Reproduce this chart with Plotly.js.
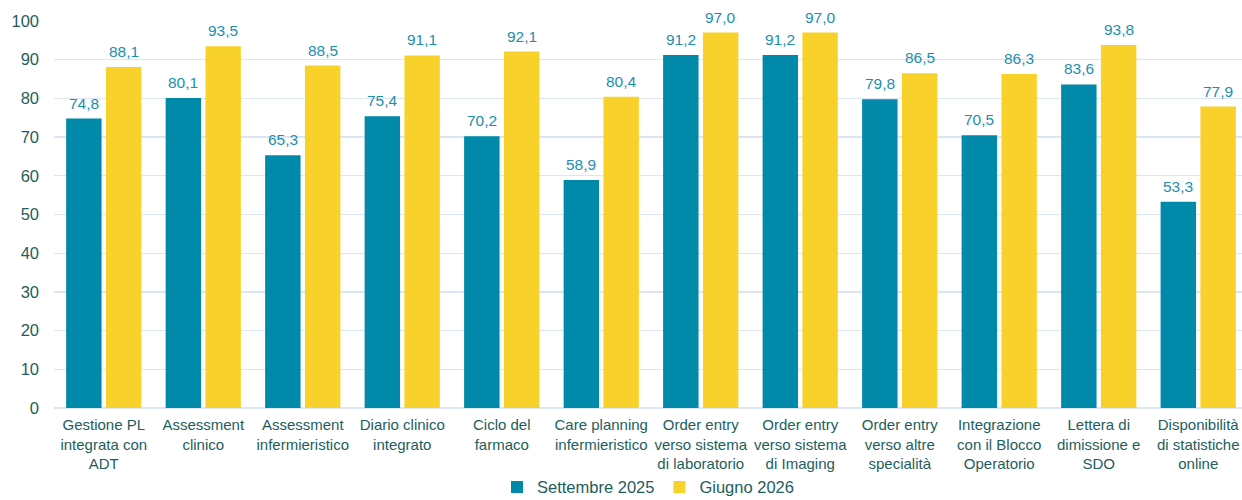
<!DOCTYPE html>
<html><head><meta charset="utf-8">
<script src="https://cdn.plot.ly/plotly-3.0.1.min.js"></script>
<style>html,body{margin:0;padding:0;background:#fff;}#chart{width:1242px;height:500px;}</style>
</head><body><div id="chart"></div>
<script>
const categories = [
  "Gestione PL<br>integrata con<br>ADT",
  "Assessment<br>clinico",
  "Assessment<br>infermieristico",
  "Diario clinico<br>integrato",
  "Ciclo del<br>farmaco",
  "Care planning<br>infermieristico",
  "Order entry<br>verso sistema<br>di laboratorio",
  "Order entry<br>verso sistema<br>di Imaging",
  "Order entry<br>verso altre<br>specialità",
  "Integrazione<br>con il Blocco<br>Operatorio",
  "Lettera di<br>dimissione e<br>SDO",
  "Disponibilità<br>di statistiche<br>online"
];
const settembre2025 = [74.8, 80.1, 65.3, 75.4, 70.2, 58.9, 91.2, 91.2, 79.8, 70.5, 83.6, 53.3];
const giugno2026 = [88.1, 93.5, 88.5, 91.1, 92.1, 80.4, 97.0, 97.0, 86.5, 86.3, 93.8, 77.9];
const seriesNames = ["Settembre 2025", "Giugno 2026"];
const yTicks = [0, 10, 20, 30, 40, 50, 60, 70, 80, 90, 100];

const FONT = "Liberation Sans, Arial, sans-serif";
const xIdx = categories.map((c, i) => i);
const labelFont = {family: FONT, size: 15.5, color: "#1c8fae"};
const axisFont = {family: FONT, size: 15, color: "#1d5e5e"};
const BARGAP = 0.2;
const slot = (1 - BARGAP) / 2;

const fmt = v => v.toFixed(1).replace(".", ",");

const traces = [
  {type: "bar", name: seriesNames[0], x: xIdx, y: settembre2025,
   marker: {color: "#0089a8"}, hoverinfo: "none"},
  {type: "bar", name: seriesNames[1], x: xIdx, y: giugno2026,
   marker: {color: "#f8d22b"}, hoverinfo: "none"}
];

const annotations = [];
[settembre2025, giugno2026].forEach((series, s) => {
  series.forEach((v, i) => {
    annotations.push({
      x: i + (s === 0 ? -slot / 2 : slot / 2), y: v, xref: "x", yref: "y",
      text: fmt(v), showarrow: false, yanchor: "bottom", xanchor: "center",
      yshift: 5, font: labelFont
    });
  });
});

const layout = {
  width: 1242, height: 500,
  margin: {l: 54, r: 0, t: 21, b: 92, autoexpand: false},
  paper_bgcolor: "#fff", plot_bgcolor: "#fff",
  barmode: "group", bargap: BARGAP, bargroupgap: 0.11,
  font: axisFont,
  annotations: annotations,
  xaxis: {
    tickmode: "array", tickvals: xIdx, ticktext: categories,
    range: [-0.5, 11.44], showgrid: false, zeroline: false,
    showline: false, ticks: "", tickangle: 0, ticklabelstandoff: 6,
    tickfont: axisFont, automargin: false
  },
  yaxis: {
    range: [0, 100], tickmode: "array", tickvals: yTicks,
    showgrid: true, gridcolor: "#dce6f2", gridwidth: 1.3,
    zeroline: true, zerolinecolor: "#dce6f2", zerolinewidth: 1.3,
    ticks: "", tickfont: {family: FONT, size: 16.5, color: "#1d5e5e"},
    ticklabelstandoff: 14, automargin: false, fixedrange: true
  },
  showlegend: true,
  legend: {orientation: "h", x: 0.5, xanchor: "center", y: -0.205, yanchor: "middle",
           font: {family: FONT, size: 16.5, color: "#1d5e5e"},
           itemwidth: 30, traceorder: "normal"}
};

Plotly.newPlot("chart", traces, layout, {staticPlot: true, displayModeBar: false});
</script>
</body></html>
